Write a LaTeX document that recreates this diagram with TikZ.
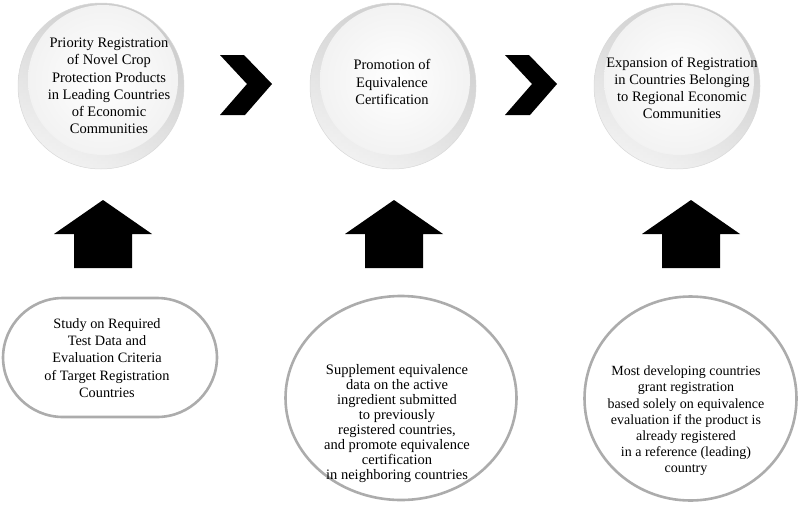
\documentclass[tikz,border=0pt]{standalone}
\usepackage{fontspec}
\setmainfont{Liberation Serif}
\usetikzlibrary{shapes.geometric}

\tikzset{
  balltext/.style={font=\fontsize{14.5}{17.2}\selectfont, align=center, inner sep=0pt},
  basetext/.style={font=\fontsize{14}{15.5}\selectfont, align=center, inner sep=0pt},
  baseline/.style={draw=gray!65, line width=2.6pt, fill=white, inner sep=0pt},
}

\begin{document}
\begin{tikzpicture}[x=1pt, y=-1pt]
\useasboundingbox (0,0) rectangle (800,504);
% glossy discs
\foreach \cx in {101,393,677}{%
  \shade[top color=gray!50, bottom color=gray!6] (\cx,86) circle (83);
  \shade[left color=gray!5, right color=gray!40, opacity=0.4] (\cx,86) circle (83);
  \shade[inner color=white, outer color=gray!10] (\cx+2,80) circle (75);
  \draw[gray!30, line width=0.5pt] (\cx,86) circle (83);}
\node[balltext] (lead) at (109,86) {Priority Registration\\of Novel Crop\\Protection Products\\in Leading Countries\\of Economic\\Communities};
\node[balltext] (equiv) at (392,82) {Promotion of\\Equivalence\\Certification};
\node[balltext] (expand) at (682,88) {Expansion of Registration\\in Countries Belonging\\to Regional Economic\\Communities};
% chevrons
\foreach \x in {220,505}
  \fill (\x,55) -- ++(24,0) -- ++(28,29) -- ++(-27,31) -- ++(-25,0) -- ++(27,-31) -- cycle;
% block arrows
\foreach \x in {103,394,691}
  \fill (\x,200) -- ++(49,34) -- ++(-20,0) -- ++(0,34) -- ++(-58,0) -- ++(0,-34) -- ++(-20,0) -- cycle;
% base shapes
\node[baseline, rounded corners=60pt, minimum width=214pt, minimum height=119pt] (study) at (110,357.5) {};
\node[basetext, font=\fontsize{14.3}{17.2}\selectfont] (studytext) at (107,358) {Study on Required\\Test Data and\\Evaluation Criteria\\of Target Registration\\Countries};
\node[baseline, ellipse, minimum width=231pt, minimum height=204pt] (supply) at (401,398) {};
\node[basetext, font=\fontsize{14.5}{15}\selectfont] (supplytext) at (397,424) {Supplement equivalence\\data on the active\\ingredient submitted\\to previously\\registered countries,\\and promote equivalence\\certification\\in neighboring countries};
\node[baseline, ellipse, minimum width=212pt, minimum height=204pt] (grant) at (690.5,398.5) {};
\node[basetext, font=\fontsize{14}{16.2}\selectfont] (granttext) at (686,421) {Most developing countries\\grant registration\\based solely on equivalence\\evaluation if the product is\\already registered\\in a reference (leading)\\country};
\end{tikzpicture}
\end{document}
